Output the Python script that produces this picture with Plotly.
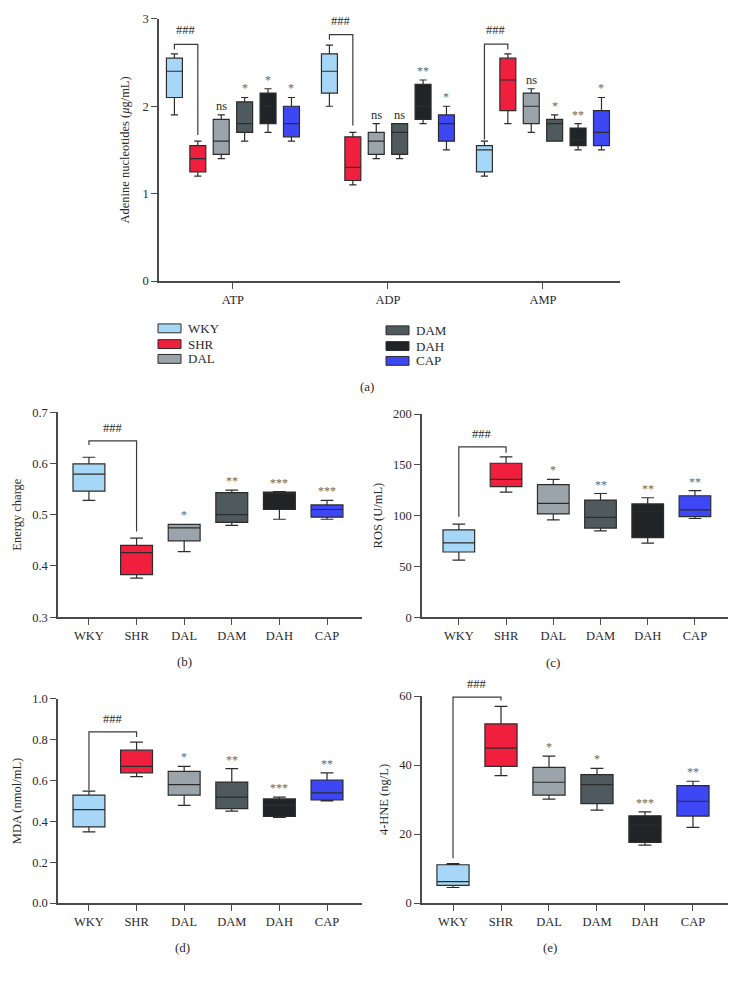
import plotly.graph_objects as go

# ---------------- data ----------------
groups = ["WKY", "SHR", "DAL", "DAM", "DAH", "CAP"]
colors = ["#A6D7F7", "#F11F3E", "#9BA4AA", "#4F5A5E", "#202426", "#3D47F3"]
nucleotides = ["ATP", "ADP", "AMP"]

# panel (a): per group, values for [ATP, ADP, AMP]
a_min = {"WKY": [1.90, 2.00, 1.20], "SHR": [1.20, 1.10, 1.80], "DAL": [1.40, 1.40, 1.70],
         "DAM": [1.60, 1.40, 1.60], "DAH": [1.70, 1.80, 1.50], "CAP": [1.60, 1.50, 1.50]}
a_q1 = {"WKY": [2.10, 2.15, 1.25], "SHR": [1.25, 1.15, 1.95], "DAL": [1.45, 1.45, 1.80],
        "DAM": [1.70, 1.45, 1.60], "DAH": [1.80, 1.85, 1.55], "CAP": [1.65, 1.60, 1.55]}
a_med = {"WKY": [2.40, 2.40, 1.50], "SHR": [1.40, 1.30, 2.30], "DAL": [1.60, 1.60, 2.00],
         "DAM": [1.80, 1.70, 1.80], "DAH": [2.00, 2.00, 1.61], "CAP": [1.80, 1.80, 1.70]}
a_q3 = {"WKY": [2.55, 2.60, 1.55], "SHR": [1.55, 1.65, 2.55], "DAL": [1.85, 1.70, 2.15],
        "DAM": [2.05, 1.80, 1.85], "DAH": [2.15, 2.25, 1.75], "CAP": [2.00, 1.90, 1.95]}
a_max = {"WKY": [2.60, 2.70, 1.60], "SHR": [1.60, 1.70, 2.60], "DAL": [1.90, 1.80, 2.20],
         "DAM": [2.10, 1.80, 1.90], "DAH": [2.20, 2.30, 1.80], "CAP": [2.10, 2.00, 2.10]}
a_sig = {"DAL": ["ns", "ns", "ns"], "DAM": ["*", "ns", "*"], "DAH": ["*", "**", "**"], "CAP": ["*", "*", "*"]}

# panel (b) Energy charge
b_min = [0.528, 0.376, 0.428, 0.479, 0.491, 0.491]
b_q1 = [0.546, 0.383, 0.449, 0.485, 0.510, 0.495]
b_med = [0.579, 0.426, 0.474, 0.500, 0.541, 0.510]
b_q3 = [0.599, 0.440, 0.481, 0.543, 0.544, 0.519]
b_max = [0.612, 0.454, 0.481, 0.548, 0.545, 0.528]
b_sig = ["", "", "*", "**", "***", "***"]

# panel (c) ROS
c_min = [56.1, 123.1, 95.9, 84.9, 72.9, 97.2]
c_q1 = [64.2, 128.6, 101.7, 87.8, 78.4, 99.1]
c_med = [73.2, 135.8, 112.1, 98.2, 104.3, 105.6]
c_q3 = [85.9, 151.6, 130.6, 115.3, 111.5, 119.6]
c_max = [91.7, 157.8, 135.8, 121.8, 117.6, 124.7]
c_sig = ["", "", "*", "**", "**", "**"]

# panel (d) MDA
d_min = [0.349, 0.619, 0.479, 0.450, 0.420, 0.500]
d_q1 = [0.373, 0.638, 0.529, 0.463, 0.424, 0.506]
d_med = [0.458, 0.670, 0.580, 0.519, 0.479, 0.540]
d_q3 = [0.529, 0.749, 0.645, 0.593, 0.510, 0.603]
d_max = [0.548, 0.789, 0.670, 0.659, 0.519, 0.638]
d_sig = ["", "", "*", "**", "***", "**"]

# panel (e) 4-HNE
e_min = [4.5, 36.9, 30.1, 26.9, 16.8, 21.9]
e_q1 = [5.1, 39.6, 31.3, 28.8, 17.6, 25.2]
e_med = [6.2, 44.9, 35.0, 34.3, 22.5, 29.5]
e_q3 = [11.1, 51.9, 39.3, 37.2, 25.3, 34.0]
e_max = [11.4, 57.0, 42.6, 39.0, 26.4, 35.3]
e_sig = ["", "", "*", "*", "***", "**"]

# ---------------- layout helpers ----------------
W, H = 736, 981
def px(x):
    return x / W
def py(y):
    return 1 - y / H

FONT = "Liberation Serif, Times New Roman, serif"
AX = "#4a4a4a"
TXT = "#2a2a2a"
SIGC = "#666666"
OUTLINE = "#2c2c2c"
HASH_SHIFT = 13

fig = go.Figure()
annotations = []
shapes = []

# ---------------- panel (a) ----------------
n = len(groups)
slot = 0.151
bw_a = 0.103
for gi, g in enumerate(groups):
    off = (gi - (n - 1) / 2) * slot
    xs = [i + off for i in range(len(nucleotides))]
    fig.add_trace(go.Box(
        x=xs, q1=a_q1[g], median=a_med[g], q3=a_q3[g],
        lowerfence=a_min[g], upperfence=a_max[g],
        fillcolor=colors[gi], line=dict(color=OUTLINE, width=1.2),
        whiskerwidth=0.45, width=bw_a, boxpoints=False, name=g,
        showlegend=False, xaxis="x", yaxis="y", hoverinfo="skip"))
    if g in a_sig:
        for i in range(len(nucleotides)):
            annotations.append(dict(x=xs[i], y=a_max[g][i], xref="x", yref="y",
                                    text=a_sig[g][i], showarrow=False, yanchor="bottom",
                                    font=dict(family=FONT, size=12.5 if a_sig[g][i] == "ns" else 12,
                                              color=TXT if a_sig[g][i] == "ns" else SIGC)))

# brackets for (a): [top, left end, right end]
a_brackets = [[2.707, 2.65, 1.67], [2.82, 2.76, 1.78], [2.71, 1.62, 2.65]]
for i, (top, le, re) in enumerate(a_brackets):
    x0 = i + (0 - (n - 1) / 2) * slot
    x1 = i + (1 - (n - 1) / 2) * slot
    shapes.append(dict(type="path", xref="x", yref="y",
                       path=f"M {x0},{le} L {x0},{top} L {x1},{top} L {x1},{re}",
                       line=dict(color="#3a3a3a", width=1.2)))
    annotations.append(dict(x=(x0 + x1) / 2, y=top, xref="x", yref="y", text="###",
                            showarrow=False, yanchor="middle", yshift=HASH_SHIFT + 1,
                            font=dict(family=FONT, size=12.5, color=TXT)))

# ---------------- panels (b)-(e) ----------------
panels = [
    ("x2", "y2", b_min, b_q1, b_med, b_q3, b_max, b_sig, [0.644, 0.636, 0.467]),
    ("x3", "y3", c_min, c_q1, c_med, c_q3, c_max, c_sig, [167.8, 99.0, 162.0]),
    ("x4", "y4", d_min, d_q1, d_med, d_q3, d_max, d_sig, [0.839, 0.553, 0.814]),
    ("x5", "y5", e_min, e_q1, e_med, e_q3, e_max, e_sig, [59.7, 13.0, 58.7]),
]
for xa, ya, mn, q1, md, q3, mx, sig, br in panels:
    for gi, g in enumerate(groups):
        fig.add_trace(go.Box(
            x=[g], q1=[q1[gi]], median=[md[gi]], q3=[q3[gi]],
            lowerfence=[mn[gi]], upperfence=[mx[gi]],
            fillcolor=colors[gi], line=dict(color=OUTLINE, width=1.2),
            whiskerwidth=0.4, width=0.67, boxpoints=False, name=g,
            showlegend=False, xaxis=xa, yaxis=ya, hoverinfo="skip"))
        if sig[gi]:
            annotations.append(dict(x=g, y=mx[gi], xref=xa, yref=ya, text=sig[gi],
                                    showarrow=False, yanchor="bottom",
                                    font=dict(family=FONT, size=12, color=SIGC)))
    top, le, re = br
    shapes.append(dict(type="path", xref=xa, yref=ya,
                       path=f"M 0,{le} L 0,{top} L 1,{top} L 1,{re}",
                       line=dict(color="#3a3a3a", width=1.2)))
    annotations.append(dict(x=0.5, y=top, xref=xa, yref=ya, text="###", showarrow=False,
                            yanchor="middle", yshift=HASH_SHIFT,
                            font=dict(family=FONT, size=12.5, color=TXT)))

# ---------------- legend (a) ----------------
leg_pos = [(158, 326), (158, 342), (158, 357), (386, 328), (386, 344), (386, 359)]
for gi, g in enumerate(groups):
    lx, ly = leg_pos[gi]
    shapes.append(dict(type="rect", xref="paper", yref="paper",
                       x0=px(lx), x1=px(lx + 23), y0=py(ly + 4.5), y1=py(ly - 4.5),
                       fillcolor=colors[gi], line=dict(color=OUTLINE, width=1)))
    annotations.append(dict(x=px(lx + 28), y=py(ly), xref="paper", yref="paper",
                            text=g, showarrow=False, xanchor="left", yanchor="middle",
                            font=dict(family=FONT, size=13, color=TXT)))

# panel labels
for lab, lx, ly in [("(a)", 367, 385), ("(b)", 185, 664), ("(c)", 553, 665),
                    ("(d)", 182, 954), ("(e)", 550, 954)]:
    annotations.append(dict(x=px(lx), y=py(ly), xref="paper", yref="paper", text=lab,
                            showarrow=False, xanchor="center", yanchor="middle",
                            font=dict(family=FONT, size=13, color=TXT)))

# ---------------- axes ----------------
def axis_common():
    return dict(showline=True, linecolor=AX, linewidth=1.5, ticks="outside",
                tickcolor=AX, tickwidth=1.4, ticklen=6, showgrid=False, zeroline=False,
                tickfont=dict(family=FONT, size=12.5, color=TXT))

def ytitle(t, standoff):
    return dict(text=t, font=dict(family=FONT, size=12.5, color=TXT), standoff=standoff)

layout = dict(
    width=W, height=H, margin=dict(l=0, r=0, t=0, b=0),
    paper_bgcolor="white", plot_bgcolor="white", boxmode="overlay",
    annotations=annotations, shapes=shapes, showlegend=False,
    xaxis=dict(**axis_common(), domain=[px(159), px(620)], range=[-0.477, 2.497],
               tickvals=[0, 1, 2], ticktext=nucleotides, anchor="y"),
    yaxis=dict(**axis_common(), domain=[py(278), py(12)], range=[0, 3],
               tickvals=[0, 1, 2, 3], anchor="x",
               title=ytitle("Adenine nucleotides (<i>μ</i>g/mL)", 10)),
    xaxis2=dict(**axis_common(), domain=[px(58), px(362)], range=[-0.65, 5.735],
                type="category", categoryarray=groups, anchor="y2"),
    yaxis2=dict(**axis_common(), domain=[py(619), py(411)], range=[0.3, 0.7],
                tickvals=[0.3, 0.4, 0.5, 0.6, 0.7], tickformat=".1f", anchor="x2",
                title=ytitle("Energy charge", 8)),
    xaxis3=dict(**axis_common(), domain=[px(422), px(728)], range=[-0.78, 5.70],
                type="category", categoryarray=groups, anchor="y3"),
    yaxis3=dict(**axis_common(), domain=[py(619), py(413)], range=[0, 200],
                tickvals=[0, 50, 100, 150, 200], anchor="x3",
                title=ytitle("ROS (U/mL)", 8)),
    xaxis4=dict(**axis_common(), domain=[px(58), px(362)], range=[-0.65, 5.735],
                type="category", categoryarray=groups, anchor="y4"),
    yaxis4=dict(**axis_common(), domain=[py(909), py(702)], range=[0, 1.0],
                tickvals=[0, 0.2, 0.4, 0.6, 0.8, 1.0], tickformat=".1f", anchor="x4",
                title=ytitle("MDA (nmol/mL)", 8)),
    xaxis5=dict(**axis_common(), domain=[px(422), px(728)], range=[-0.646, 5.73],
                type="category", categoryarray=groups, anchor="y5"),
    yaxis5=dict(**axis_common(), domain=[py(909), py(699)], range=[0, 60],
                tickvals=[0, 20, 40, 60], anchor="x5",
                title=ytitle("4-HNE (ng/L)", 8)),
)
fig.update_layout(**layout)
fig.write_html("out.html", post_script="document.body.style.margin='0px';",
               config={"displayModeBar": False})
